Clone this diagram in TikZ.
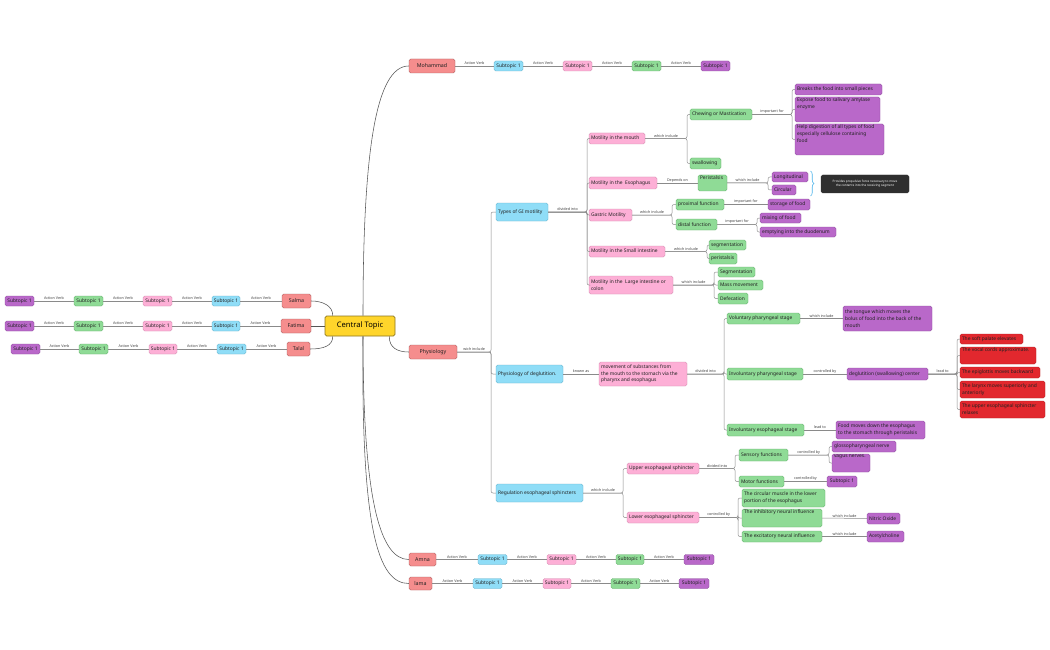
\documentclass[tikz,border=0pt]{standalone}
\usepackage{fontspec}
\setmainfont{Noto Sans}
\usetikzlibrary{decorations.pathreplacing,calc}
\definecolor{tpF}{HTML}{F58D8D}\definecolor{tpD}{HTML}{A65858}
\definecolor{cyF}{HTML}{8FDDF7}\definecolor{cyD}{HTML}{62AFCA}
\definecolor{pkF}{HTML}{FDAFD6}\definecolor{pkD}{HTML}{D28AAE}
\definecolor{grF}{HTML}{8FDB96}\definecolor{grD}{HTML}{62AD69}
\definecolor{puF}{HTML}{B968C9}\definecolor{puD}{HTML}{8A4A9A}
\definecolor{rdF}{HTML}{E2282E}\definecolor{rdD}{HTML}{B21D22}
\definecolor{ctF}{HTML}{FFD52B}\definecolor{ctD}{HTML}{8C7620}
\definecolor{dkF}{HTML}{2F2F2F}
\definecolor{txt}{HTML}{222222}
\definecolor{lnC}{HTML}{8A8A8A}
\definecolor{mcC}{HTML}{555555}
\definecolor{lbC}{HTML}{444444}
\definecolor{brC}{HTML}{4BB3EA}
\newcommand\Tbox[8]{%
 \pgfmathsetmacro\tbW{#5-#3}\pgfmathsetmacro\tbH{#6-#4}%
 \pgfmathsetmacro\tbw{#5-#3-4}\pgfmathsetmacro\tbh{#6-#4-2}%
 \node[#2, minimum width=\tbW pt, minimum height=\tbH pt] (#1) at ({(#3+#5)/2},{(#4+#6)/2})
 {\parbox[c][\tbh pt][#7]{\tbw pt}{\raggedright #8}};}
\newcommand\Tc[1]{\makebox[\linewidth]{#1}}
\newcommand\Tbranch[4]{%
 \coordinate (tbT) at (#2,0);
 \foreach \tc in {#4}{\draw[conn] (#1.east) -- (#1.east -| tbT) |- (\tc.west);}
 \path (#1.east) -- (#1.east -| tbT) node[lbl, midway] {#3};}
\newcommand\Tlink[3]{\draw[conn] (#1.east) -- node[lbl]{#3} (#2.west);}
\newcommand\Tlinkl[3]{\draw[conn] (#1.west) -- node[lbl]{#3} (#2.east);}
\tikzset{
 bx/.style={draw, line width=0.45pt, rounded corners=1.6pt, inner sep=0pt, text=txt, font=\fontsize{4.9}{6.7}\selectfont},
 cyb/.style={bx, fill=cyF, draw=cyD},
 pkb/.style={bx, fill=pkF, draw=pkD},
 grb/.style={bx, fill=grF, draw=grD},
 pub/.style={bx, fill=puF, draw=puD},
 rdb/.style={bx, fill=rdF, draw=rdD},
 tpc/.style={bx, fill=tpF, draw=tpD, font=\fontsize{5.3}{6}\selectfont\bfseries},
 ctop/.style={bx, fill=ctF, draw=ctD, line width=0.6pt, text=black, font=\fontsize{7.6}{9}\selectfont\bfseries},
 dkb/.style={bx, fill=dkF, draw=dkF, text=white, font=\fontsize{3.1}{4.3}\selectfont\bfseries},
 conn/.style={draw=lnC, line width=0.5pt, rounded corners=2pt},
 mainc/.style={draw=mcC, line width=0.55pt},
 lbl/.style={font=\fontsize{3.7}{4}\selectfont, text=lbC, inner sep=0.8pt, above},
 brc/.style={draw=brC, line width=0.6pt, decorate, decoration={brace, amplitude=3.5pt}},
}
\begin{document}
\begin{tikzpicture}[x=1pt,y=-1pt]
\fill[white] (0,0) rectangle (1050,650);
\useasboundingbox (0,0) rectangle (1050,650);
% central
\Tbox{ct}{ctop}{325}{316}{395}{336}{c}{\Tc{Central Topic}}
% left rows
\Tbox{sa}{tpc}{282}{294}{311}{308}{c}{\Tc{Salma}}
\Tbox{sa1}{cyb}{212}{296}{240}{306}{c}{\Tc{Subtopic 1}}
\Tbox{sa2}{pkb}{143}{296}{172}{306}{c}{\Tc{Subtopic 1}}
\Tbox{sa3}{grb}{74}{296}{103}{306}{c}{\Tc{Subtopic 1}}
\Tbox{sa4}{pub}{5}{296}{34}{306}{c}{\Tc{Subtopic 1}}
\Tbox{fa}{tpc}{281}{319}{311}{333}{c}{\Tc{Fatima}}
\Tbox{fa1}{cyb}{212}{321}{240}{331}{c}{\Tc{Subtopic 1}}
\Tbox{fa2}{pkb}{143}{321}{172}{331}{c}{\Tc{Subtopic 1}}
\Tbox{fa3}{grb}{74}{321}{103}{331}{c}{\Tc{Subtopic 1}}
\Tbox{fa4}{pub}{5}{321}{34}{331}{c}{\Tc{Subtopic 1}}
\Tbox{ta}{tpc}{287}{342}{310}{356}{c}{\Tc{Talal}}
\Tbox{ta1}{cyb}{217}{344}{246}{354}{c}{\Tc{Subtopic 1}}
\Tbox{ta2}{pkb}{149}{344}{177}{354}{c}{\Tc{Subtopic 1}}
\Tbox{ta3}{grb}{79}{344}{108}{354}{c}{\Tc{Subtopic 1}}
\Tbox{ta4}{pub}{11}{344}{40}{354}{c}{\Tc{Subtopic 1}}
\Tlinkl{sa}{sa1}{Action Verb}\Tlinkl{sa1}{sa2}{Action Verb}\Tlinkl{sa2}{sa3}{Action Verb}\Tlinkl{sa3}{sa4}{Action Verb}
\Tlinkl{fa}{fa1}{Action Verb}\Tlinkl{fa1}{fa2}{Action Verb}\Tlinkl{fa2}{fa3}{Action Verb}\Tlinkl{fa3}{fa4}{Action Verb}
\Tlinkl{ta}{ta1}{Action Verb}\Tlinkl{ta1}{ta2}{Action Verb}\Tlinkl{ta2}{ta3}{Action Verb}\Tlinkl{ta3}{ta4}{Action Verb}
% right rows
\Tbox{mo}{tpc}{409}{59}{455}{73}{c}{\Tc{Mohammad}}
\Tbox{mo1}{cyb}{494}{61}{523}{71}{c}{\Tc{Subtopic 1}}
\Tbox{mo2}{pkb}{563}{61}{592}{71}{c}{\Tc{Subtopic 1}}
\Tbox{mo3}{grb}{632}{61}{661}{71}{c}{\Tc{Subtopic 1}}
\Tbox{mo4}{pub}{701}{61}{730}{71}{c}{\Tc{Subtopic 1}}
\Tlink{mo}{mo1}{Action Verb}\Tlink{mo1}{mo2}{Action Verb}\Tlink{mo2}{mo3}{Action Verb}\Tlink{mo3}{mo4}{Action Verb}
\Tbox{am}{tpc}{409}{553}{436}{566}{c}{\Tc{Amna}}
\Tbox{am1}{cyb}{478}{554.5}{507}{564.5}{c}{\Tc{Subtopic 1}}
\Tbox{am2}{pkb}{547}{554.5}{576}{564.5}{c}{\Tc{Subtopic 1}}
\Tbox{am3}{grb}{616}{554.5}{644}{564.5}{c}{\Tc{Subtopic 1}}
\Tbox{am4}{pub}{684}{554.5}{714}{564.5}{c}{\Tc{Subtopic 1}}
\Tlink{am}{am1}{Action Verb}\Tlink{am1}{am2}{Action Verb}\Tlink{am2}{am3}{Action Verb}\Tlink{am3}{am4}{Action Verb}
\Tbox{la}{tpc}{409}{577}{432}{590}{c}{\Tc{lama}}
\Tbox{la1}{cyb}{473}{578.5}{502}{588.5}{c}{\Tc{Subtopic 1}}
\Tbox{la2}{pkb}{543}{578.5}{571}{588.5}{c}{\Tc{Subtopic 1}}
\Tbox{la3}{grb}{611}{578.5}{640}{588.5}{c}{\Tc{Subtopic 1}}
\Tbox{la4}{pub}{679}{578.5}{709}{588.5}{c}{\Tc{Subtopic 1}}
\Tlink{la}{la1}{Action Verb}\Tlink{la1}{la2}{Action Verb}\Tlink{la2}{la3}{Action Verb}\Tlink{la3}{la4}{Action Verb}
% physiology
\Tbox{ph}{tpc}{409}{345}{457}{359}{c}{\Tc{Physiology}}
\Tbox{gi}{cyb}{496}{203}{548}{221}{c}{Types of GI motility}
\Tbox{pd}{cyb}{496}{365}{563}{383}{c}{Physiology of deglutition.}
\Tbox{re}{cyb}{496}{484}{583}{502}{c}{Regulation esophageal sphincters}
\Tbranch{ph}{491}{wich include}{gi,pd,re}
% GI motility
\Tbox{m1}{pkb}{589}{133}{645}{144}{c}{Motility in the mouth}
\Tbox{m2}{pkb}{589}{177}{657}{189}{c}{Motility in the\ \ Esophagus}
\Tbox{m3}{pkb}{589}{209}{632}{221}{c}{Gastric Motility}
\Tbox{m4}{pkb}{589}{246}{665}{257}{c}{Motility in the Small intestine}
\Tbox{m5}{pkb}{589}{276}{673}{294}{c}{Motility in the\ \ Large intestine or\\colon}
\Tbranch{gi}{587}{divided into}{m1,m2,m3,m4,m5}
\Tbox{ch}{grb}{690}{109}{752}{120}{c}{Chewing or Mastication}
\Tbox{sw}{grb}{690}{158}{721}{169}{c}{swallowing}
\Tbranch{m1}{687}{which include}{ch,sw}
\Tbox{b1}{pub}{795}{84}{882}{95}{c}{Breaks the food into small pieces}
\Tbox{b2}{pub}{795}{97}{880}{122}{t}{Expose food to salivary amylase\\enzyme}
\Tbox{b3}{pub}{795}{124}{884}{155}{t}{Help digestion of all types of food\\especially cellulose containing\\food}
\Tbranch{ch}{792}{important for}{b1,b2,b3}
\Tbox{pe}{grb}{698}{175}{727}{191}{t}{Peristalsis}
\Tlink{m2}{pe}{Depends on}
\Tbox{lo}{pub}{772}{172}{808}{182}{c}{Longitudinal}
\Tbox{ci}{pub}{772}{185}{796}{195}{c}{Circular}
\Tbranch{pe}{768}{which include}{lo,ci}
\coordinate (brT) at (810.5,171);
\coordinate (brB) at (810.5,196);
\draw[brc] (brT) -- (brB);
\Tbox{sm}{dkb}{821}{175}{909}{193}{c}{\centering Provides propulsive force necessary to move\\the contents into the receiving segment}
\Tbox{px}{grb}{676}{199}{724}{210}{c}{proximal function}
\Tbox{df}{grb}{676}{219}{717}{230}{c}{distal function}
\Tbranch{m3}{672}{which include}{px,df}
\Tbox{sf}{pub}{768}{199}{810}{210}{c}{storage of food}
\Tlink{px}{sf}{important for}
\Tbox{mx}{pub}{760}{213}{801}{223}{c}{mixing of food}
\Tbox{em}{pub}{760}{227}{836}{237}{c}{emptying into the duodenum}
\Tbranch{df}{757}{important for}{mx,em}
\Tbox{sg}{grb}{709}{240}{746}{250}{c}{segmentation}
\Tbox{ps}{grb}{709}{253}{737}{264}{c}{peristalsis}
\Tbranch{m4}{707}{which include}{sg,ps}
\Tbox{Sg}{grb}{718}{267}{755}{277}{c}{Segmentation}
\Tbox{mm}{grb}{718}{280}{763}{290}{c}{Mass movement}
\Tbox{dc}{grb}{718}{293}{748}{304}{c}{Defecation}
\Tbranch{m5}{714}{which include}{Sg,mm,dc}
% deglutition
\Tbox{mv}{pkb}{599}{362}{687}{386}{c}{movement of substances from\\the mouth to the stomach via the\\pharynx and esophagus}
\Tlink{pd}{mv}{known as}
\Tbox{vo}{grb}{727}{313}{800}{324}{c}{Voluntary pharyngeal stage}
\Tbox{ip}{grb}{727}{368}{803}{380}{c}{Involuntary pharyngeal stage}
\Tbox{ie}{grb}{727}{424}{804}{436}{c}{Involuntary esophageal stage}
\Tbranch{mv}{724}{divided into}{vo,ip,ie}
\Tbox{tg}{pub}{843}{306}{932}{331}{c}{the tongue which moves the\\bolus of food into the back of the\\mouth}
\Tlink{vo}{tg}{which include}
\Tbox{dg}{pub}{847}{368}{928}{380}{c}{deglutition (swallowing) center}
\Tlink{ip}{dg}{controlled by}
\Tbox{r1}{rdb}{960}{334}{1023}{344}{c}{The soft palate elevates}
\Tbox{r2}{rdb}{960}{347}{1036}{364}{t}{The vocal cords approximate.}
\Tbox{r3}{rdb}{960}{367}{1040}{378}{c}{The epiglottis moves backward}
\Tbox{r4}{rdb}{960}{381}{1045}{398}{c}{The larynx moves superiorly and\\anteriorly}
\Tbox{r5}{rdb}{960}{401}{1045}{418}{c}{The upper esophageal sphincter\\relaxes}
\Tbranch{dg}{957}{lead to}{r1,r2,r3,r4,r5}
\Tbox{fm}{pub}{836}{421}{925}{439}{c}{Food moves down the esophagus\\to the stomach through peristalsis}
\Tlink{ie}{fm}{lead to}
% regulation
\Tbox{up}{pkb}{627}{463}{699}{474}{c}{Upper esophageal sphincter}
\Tbox{lw}{pkb}{627}{512}{699}{523}{c}{Lower esophageal sphincter}
\Tbranch{re}{623}{which include}{up,lw}
\Tbox{se}{grb}{739}{449}{788}{461}{c}{Sensory functions}
\Tbox{mf}{grb}{739}{476}{784}{487}{c}{Motor functions}
\Tbranch{up}{735}{divided into}{se,mf}
\Tbox{gn}{pub}{832}{441}{896}{452}{c}{glossopharyngeal nerve}
\Tbox{vn}{pub}{832}{454}{870}{472}{t}{vagus nerves.}
\Tbranch{se}{829}{controlled by}{gn,vn}
\Tbox{st}{pub}{827}{476}{857}{487}{c}{\Tc{Subtopic 1}}
\Tlink{mf}{st}{controlled by}
\Tbox{cm}{grb}{742}{489}{825}{507}{c}{The circular muscle in the lower\\portion of the esophagus}
\Tbox{ih}{grb}{742}{509}{822}{527}{t}{The inhibitory neural influence}
\Tbox{ex}{grb}{742}{531}{822}{542}{c}{The excitatory neural influence}
\Tbranch{lw}{738}{controlled by}{cm,ih,ex}
\Tbox{no}{pub}{867}{513}{900}{524}{c}{Nitric Oxide}
\Tlink{ih}{no}{which include}
\Tbox{ac}{pub}{867}{531}{904}{542}{c}{Acetylcholine}
\Tlink{ex}{ac}{which include}
% central connectors
\draw[mainc] ([xshift=8pt]ct.north west) .. controls (333,306) and (323,301) .. (sa.east);
\draw[mainc] (ct.west) -- (fa.east);
\draw[mainc] ([xshift=8pt]ct.south west) .. controls (333,346) and (323,349) .. (ta.east);
\draw[mainc] ([xshift=3pt]ct.north) .. controls (363,150) and (376,66) .. (mo.west);
\draw[mainc] ([xshift=-6pt]ct.south east) .. controls (389,348) and (398,352) .. (ph.west);
\draw[mainc] ([xshift=3pt]ct.south) .. controls (363,500) and (380,559.5) .. (am.west);
\draw[mainc] ([xshift=3pt]ct.south) .. controls (361,530) and (378,583.5) .. (la.west);
\end{tikzpicture}
\end{document}
